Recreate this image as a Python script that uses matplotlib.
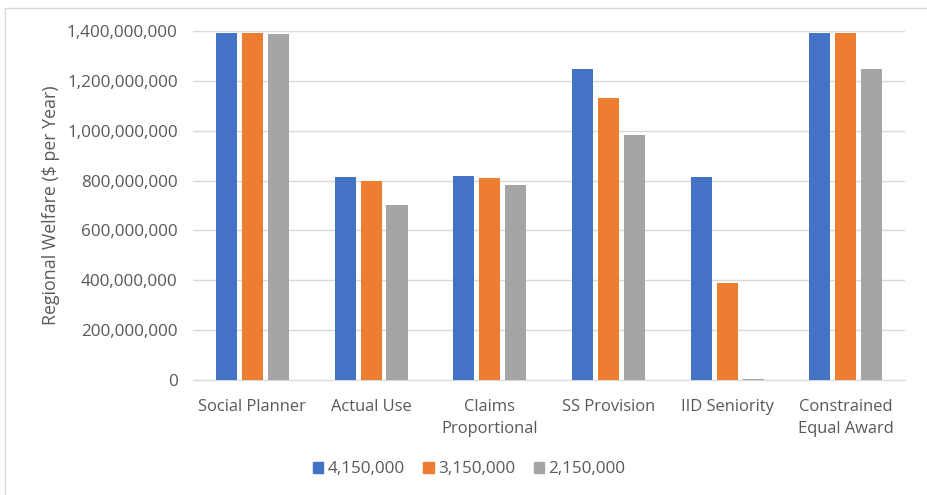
import matplotlib
matplotlib.use("Agg")
import matplotlib.pyplot as plt
import numpy as np
from matplotlib.ticker import FuncFormatter, MultipleLocator
from matplotlib.lines import Line2D

categories = ["Social Planner", "Actual Use", "Claims\nProportional", "SS Provision",
              "IID Seniority", "Constrained\nEqual Award"]
series_names = ["4,150,000", "3,150,000", "2,150,000"]
s_4150 = [1390e6, 815e6, 819e6, 1249e6, 815e6, 1390e6]
s_3150 = [1390e6, 797e6, 811e6, 1133e6, 390e6, 1390e6]
s_2150 = [1388e6, 703e6, 782e6, 983e6, 4e6, 1246e6]
colors = ["#4472C4", "#ED7D31", "#A5A5A5"]

plt.rcParams['font.family'] = ['Open Sans', 'DejaVu Sans']
txt = "#595959"

fig = plt.figure(figsize=(9.27, 4.95), dpi=100)
ax = fig.add_axes([0.2082, 0.2323, 0.7681, 0.7051])

x = np.arange(len(categories))
w = 0.177
step = 0.219
for i, (vals, name) in enumerate(zip([s_4150, s_3150, s_2150], series_names)):
    ax.bar(x + (i - 1) * step, vals, width=w, color=colors[i], label=name, zorder=3)

ax.set_xlim(-0.5, len(categories) - 0.5)
ax.set_ylim(0, 1.4e9)
ax.yaxis.set_major_locator(MultipleLocator(2e8))
ax.yaxis.set_major_formatter(FuncFormatter(lambda v, p: f"{int(round(v)):,}"))
ax.grid(axis='y', color="#D9D9D9", linewidth=1, zorder=0)
for s in ["top", "right", "left"]:
    ax.spines[s].set_visible(False)
ax.spines["bottom"].set_color("#D9D9D9")
ax.tick_params(axis='y', length=0, colors=txt, labelsize=12.3, pad=11)
ax.tick_params(axis='x', length=0, colors=txt, labelsize=11.9, pad=14)
ax.set_xticks(x)
ax.set_xticklabels(categories, linespacing=1.5)
ax.set_ylabel("Regional Welfare ($ per Year)", color=txt, fontsize=12.8, labelpad=5)

handles = [plt.Rectangle((0, 0), 1, 1, color=c) for c in colors]
fig.legend(handles, series_names, loc='center', bbox_to_anchor=(0.506, 0.052), ncol=3,
           frameon=False, fontsize=12.3, labelcolor=txt, handlelength=0.6, handleheight=0.6,
           handletextpad=0.25, columnspacing=1.1)

# outer chart border (top and left visible)
fig.add_artist(Line2D([0.0054, 1.0], [0.984, 0.984], transform=fig.transFigure, color="#D9D9D9", lw=1))
fig.add_artist(Line2D([0.0054, 0.0054], [0.0, 0.984], transform=fig.transFigure, color="#D9D9D9", lw=1))

fig.savefig("out.png", dpi=100)
